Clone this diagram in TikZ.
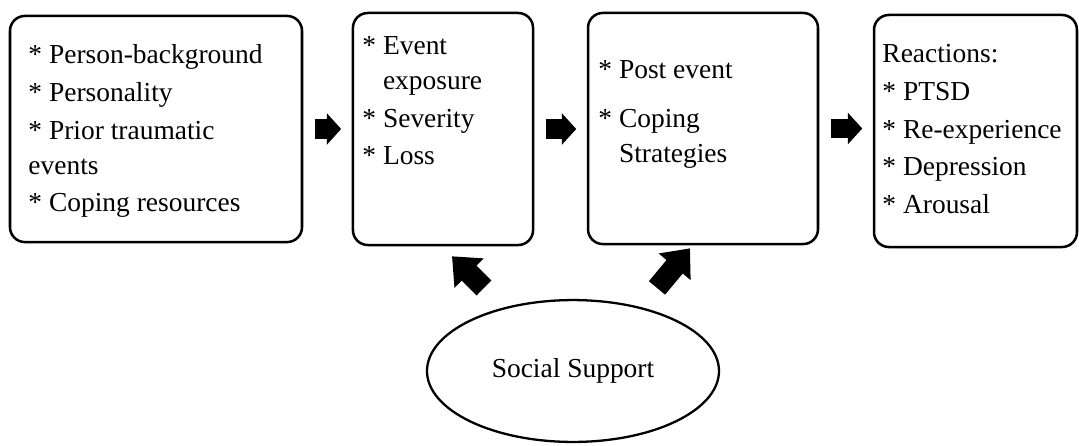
\documentclass[tikz,border=0pt]{standalone}
\usepackage{fontspec}
\setmainfont{Liberation Serif}
\usetikzlibrary{arrows.meta, calc, shapes.geometric}

\begin{document}
\begin{tikzpicture}[
    x=0.437pt, y=-0.437pt,
    stage/.style={draw, rounded corners=6.5pt, line width=1.1pt, inner sep=0pt},
    items/.style={anchor=north west, align=left, inner sep=0pt, font=\fontsize{12}{15.3}\selectfont},
    flow/.style={line width=8.5pt, -{Triangle[length=6.3pt, width=13.5pt]}, shorten <=5pt, shorten >=4.6pt},
    lift/.style={line width=9.2pt, -{Triangle[length=10.5pt, width=17.5pt]}}
]
\useasboundingbox (0,0) rectangle (1079,445);

% the four stages
\node[stage, minimum width=127.6pt, minimum height=98.8pt] (b1) at (156,129) {};
\node[stage, minimum width=78.7pt, minimum height=101.4pt] (b2) at (443,129) {};
\node[stage, minimum width=100.5pt, minimum height=101pt] (b3) at (703,128.5) {};
\node[stage, minimum width=88.7pt, minimum height=101.4pt] (b4) at (975.5,131) {};

% what each stage holds
\node[items] (t1) at (28,44) {* Person-background\\[1.2pt]
    * Personality\\[1.2pt]
    * Prior traumatic\\ events\\[1.2pt]
    * Coping resources};
\node[items] (t2) at (362,36) {* Event\\ \phantom{* }exposure\\[1.2pt]
    * Severity\\[1.2pt]
    * Loss};
\node[items] (t3) at (598,60) {* Post event\\[6pt]
    * Coping\\ \phantom{* }Strategies};
\node[items] (t4) at (882,44) {Reactions:\\[1.2pt]
    * PTSD\\[1.2pt]
    * Re-experience\\[1.2pt]
    * Depression\\[1.2pt]
    * Arousal};

% support underneath
\node[draw, ellipse, line width=1pt, inner sep=0pt, minimum width=127.6pt, minimum height=62pt,
    font=\fontsize{12}{15.3}\selectfont] (ss) at (573,371) {Social Support};

% block arrows
\draw[flow] (b1.east) -- (b1.east -| b2.west);
\draw[flow] (b2.east) -- (b2.east -| b3.west);
\draw[flow] (b3.east) -- (b3.east -| b4.west);
\draw[lift] ($(ss.north)+(-89,-11)$) -- ($(b2.south)+(9,10)$);
\draw[lift] ($(ss.north)+(84,-11)$) -- ($(b3.south)+(-13,3)$);

\end{tikzpicture}
\end{document}
